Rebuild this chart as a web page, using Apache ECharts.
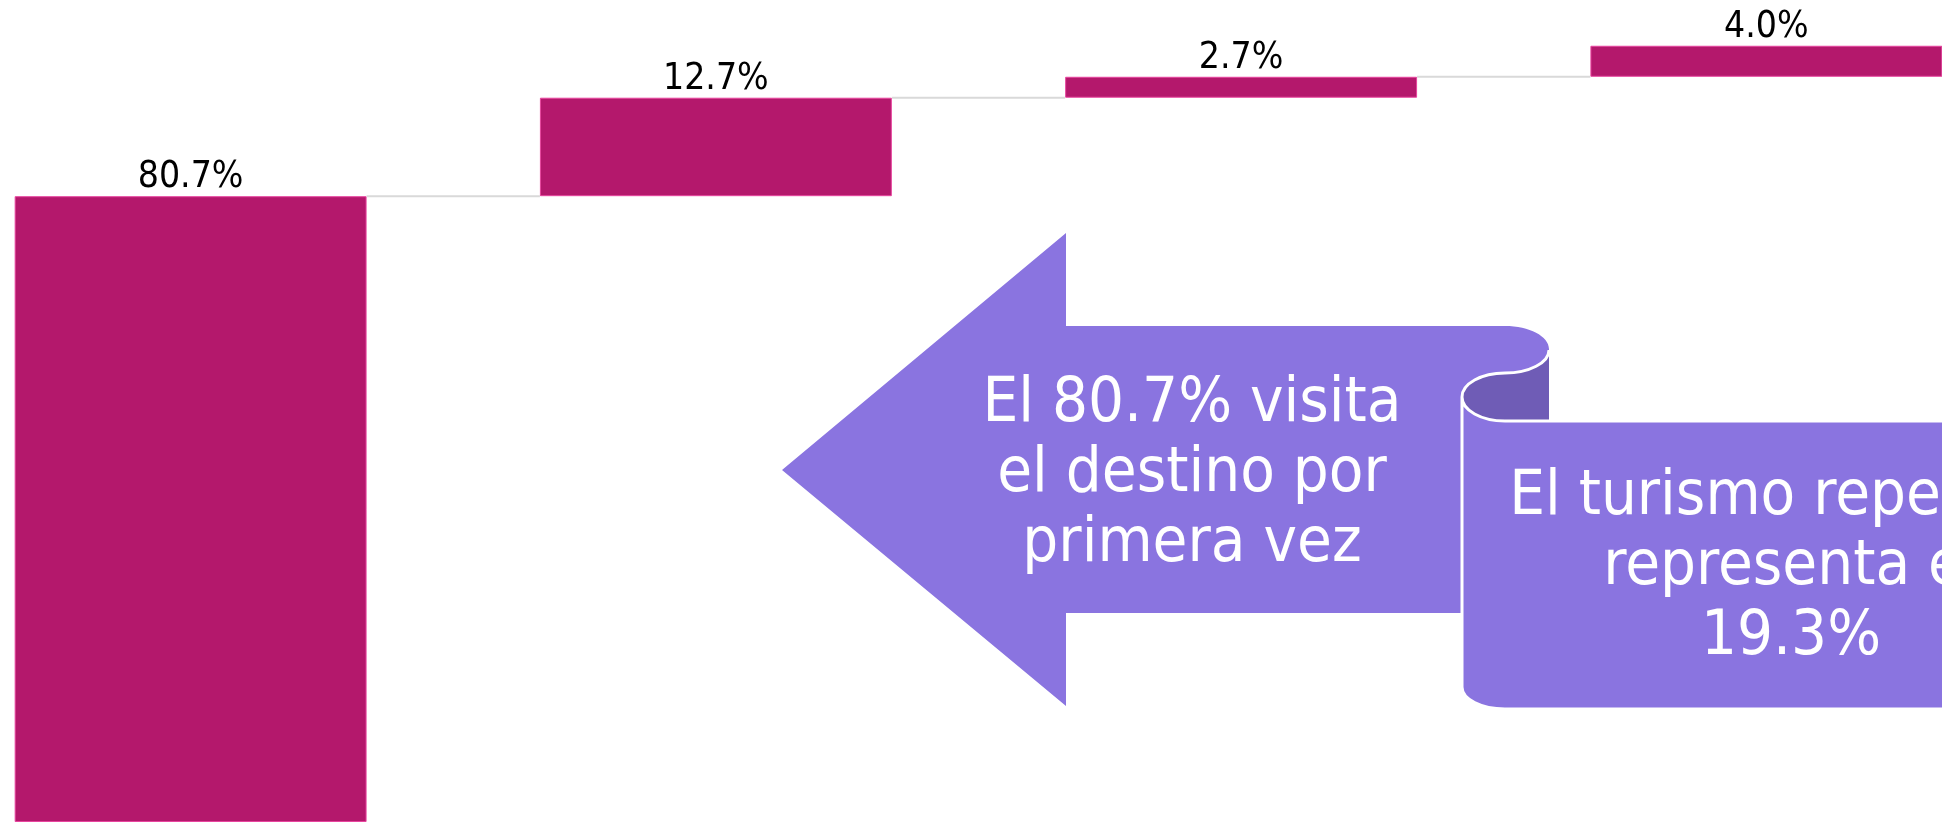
<!DOCTYPE html>
<html>
<head>
<meta charset="utf-8">
<title>Visitas al destino</title>
<script src="https://cdn.jsdelivr.net/npm/echarts@6/dist/echarts.min.js"></script>
<style>
  html, body { margin: 0; padding: 0; background: #fff; }
  #chart { width: 1942px; height: 822px; }
</style>
</head>
<body>
<div id="chart"></div>
<script>
// cascada de visitas: porcentaje de turistas por número de visita
const categories = ['1a visita', '2a visita', '3a visita', '4+ visitas']
const values = [80.7, 12.7, 2.7, 4.0]

const arrowText = 'El 80.7% visita\nel destino por\nprimera vez'
const scrollText = 'El turismo repetidor\nrepresenta el\n19.3%'

// base invisible de cada escalón y nivel acumulado donde termina
const base = []
const ends = []
let acc = 0
values.forEach(v => { base.push(acc); acc += v; ends.push(acc) })

const BAR = '#b4186c'
const BAR_EDGE = '#e8449e'
const PURPLE = '#8a74e0'
const PURPLE_DARK = '#6f5cb6'
const FONT = '"DejaVu Sans Condensed", "DejaVu Sans", sans-serif'
const BAR_RATIO = 0.67

// cuarto de elipse como curva bezier (ángulos en grados, pasos de 90)
function quarter(cx, cy, rx, ry, a0, a1) {
  const k = 0.5523
  const s = a1 > a0 ? 1 : -1
  const t0 = a0 * Math.PI / 180, t1 = a1 * Math.PI / 180
  const p0 = [cx + rx * Math.cos(t0), cy + ry * Math.sin(t0)]
  const p3 = [cx + rx * Math.cos(t1), cy + ry * Math.sin(t1)]
  const p1 = [p0[0] - s * k * rx * Math.sin(t0), p0[1] + s * k * ry * Math.cos(t0)]
  const p2 = [p3[0] + s * k * rx * Math.sin(t1), p3[1] - s * k * ry * Math.cos(t1)]
  const f = p => p[0].toFixed(1) + ',' + p[1].toFixed(1)
  return ' C' + f(p1) + ' ' + f(p2) + ' ' + f(p3)
}

// flecha y pergamino (formas de anotación, en píxeles de la página)
function renderNotes() {
  const arrow = 'M782,470 L1066,233 L1066,326 L1505,326' + quarter(1505, 349, 44, 23, -90, 0) +
    ' L1549,400 L1462,400 L1462,613 L1066,613 L1066,706 Z'
  const back = 'M1549,349 L1549,421 L1505,421' + quarter(1505, 397, 43, 24, 90, 180) +
    quarter(1505, 397, 43, 24, 180, 270) + quarter(1505, 350, 44, 23, 90, 0) + ' Z'
  const body = 'M1462,397 L1462,687' + quarter(1505, 687, 43, 22, 180, 90) +
    ' L2200,709 L2200,421 L1505,421' + quarter(1505, 397, 43, 24, 90, 180) + ' Z'
  const curl = 'M1549,350' + quarter(1505, 350, 44, 23, 0, 90) + quarter(1505, 397, 43, 24, 270, 180)
  return {
    type: 'group',
    children: [
      { type: 'path', z2: 1, shape: { pathData: arrow }, style: { fill: PURPLE } },
      { type: 'path', z2: 2, shape: { pathData: back }, style: { fill: PURPLE_DARK } },
      { type: 'path', z2: 3, shape: { pathData: body }, style: { fill: PURPLE, stroke: '#fff', lineWidth: 3 } },
      { type: 'path', z2: 4, shape: { pathData: curl }, style: { fill: 'none', stroke: '#fff', lineWidth: 3 } },
      {
        type: 'text', z2: 5, x: 1192, y: 475,
        style: {
          text: arrowText, fill: '#fff', font: '63px ' + FONT, lineHeight: 70,
          align: 'center', verticalAlign: 'middle'
        }
      },
      {
        type: 'text', z2: 5, x: 1791, y: 568,
        style: {
          text: scrollText, fill: '#fff', font: '63px ' + FONT, lineHeight: 70,
          align: 'center', verticalAlign: 'middle'
        }
      }
    ]
  }
}

const chart = echarts.init(document.getElementById('chart'))

chart.setOption({
  animation: false,
  grid: { left: -72, width: 2101, top: 0, bottom: 0, outerBoundsMode: 'none', containLabel: false },
  xAxis: {
    type: 'category', data: categories,
    axisLine: { show: false }, axisTick: { show: false }, axisLabel: { show: false }
  },
  yAxis: { type: 'value', min: 0, max: 106, show: false, splitLine: { show: false } },
  series: [
    {
      // líneas conectoras entre escalones (de borde a borde)
      type: 'custom', z: 1, silent: true,
      data: ends.slice(0, -1).map((e, i) => [i, e]),
      renderItem(params, api) {
        const half = api.size([1, 0])[0] * BAR_RATIO / 2
        const a = api.coord([api.value(0), api.value(1)])
        const b = api.coord([api.value(0) + 1, api.value(1)])
        return {
          type: 'line',
          shape: { x1: a[0] + half, y1: a[1], x2: b[0] - half, y2: b[1] },
          style: { stroke: '#d9d9d9', lineWidth: 2 }
        }
      }
    },
    {
      type: 'bar', stack: 'w', z: 2, silent: true,
      data: base, barCategoryGap: '33%',
      itemStyle: { color: 'transparent' }
    },
    {
      type: 'bar', stack: 'w', z: 2,
      data: values, barCategoryGap: '33%',
      itemStyle: { color: BAR, borderColor: BAR_EDGE, borderWidth: 1 },
      label: {
        show: true, position: 'top', distance: 0,
        formatter: p => p.value.toFixed(1) + '%',
        color: '#000', fontSize: 37, fontFamily: FONT
      }
    },
    {
      type: 'custom', z: 10, silent: true, clip: false,
      data: [[0, 0]],
      renderItem: renderNotes
    }
  ]
})
</script>
</body>
</html>
